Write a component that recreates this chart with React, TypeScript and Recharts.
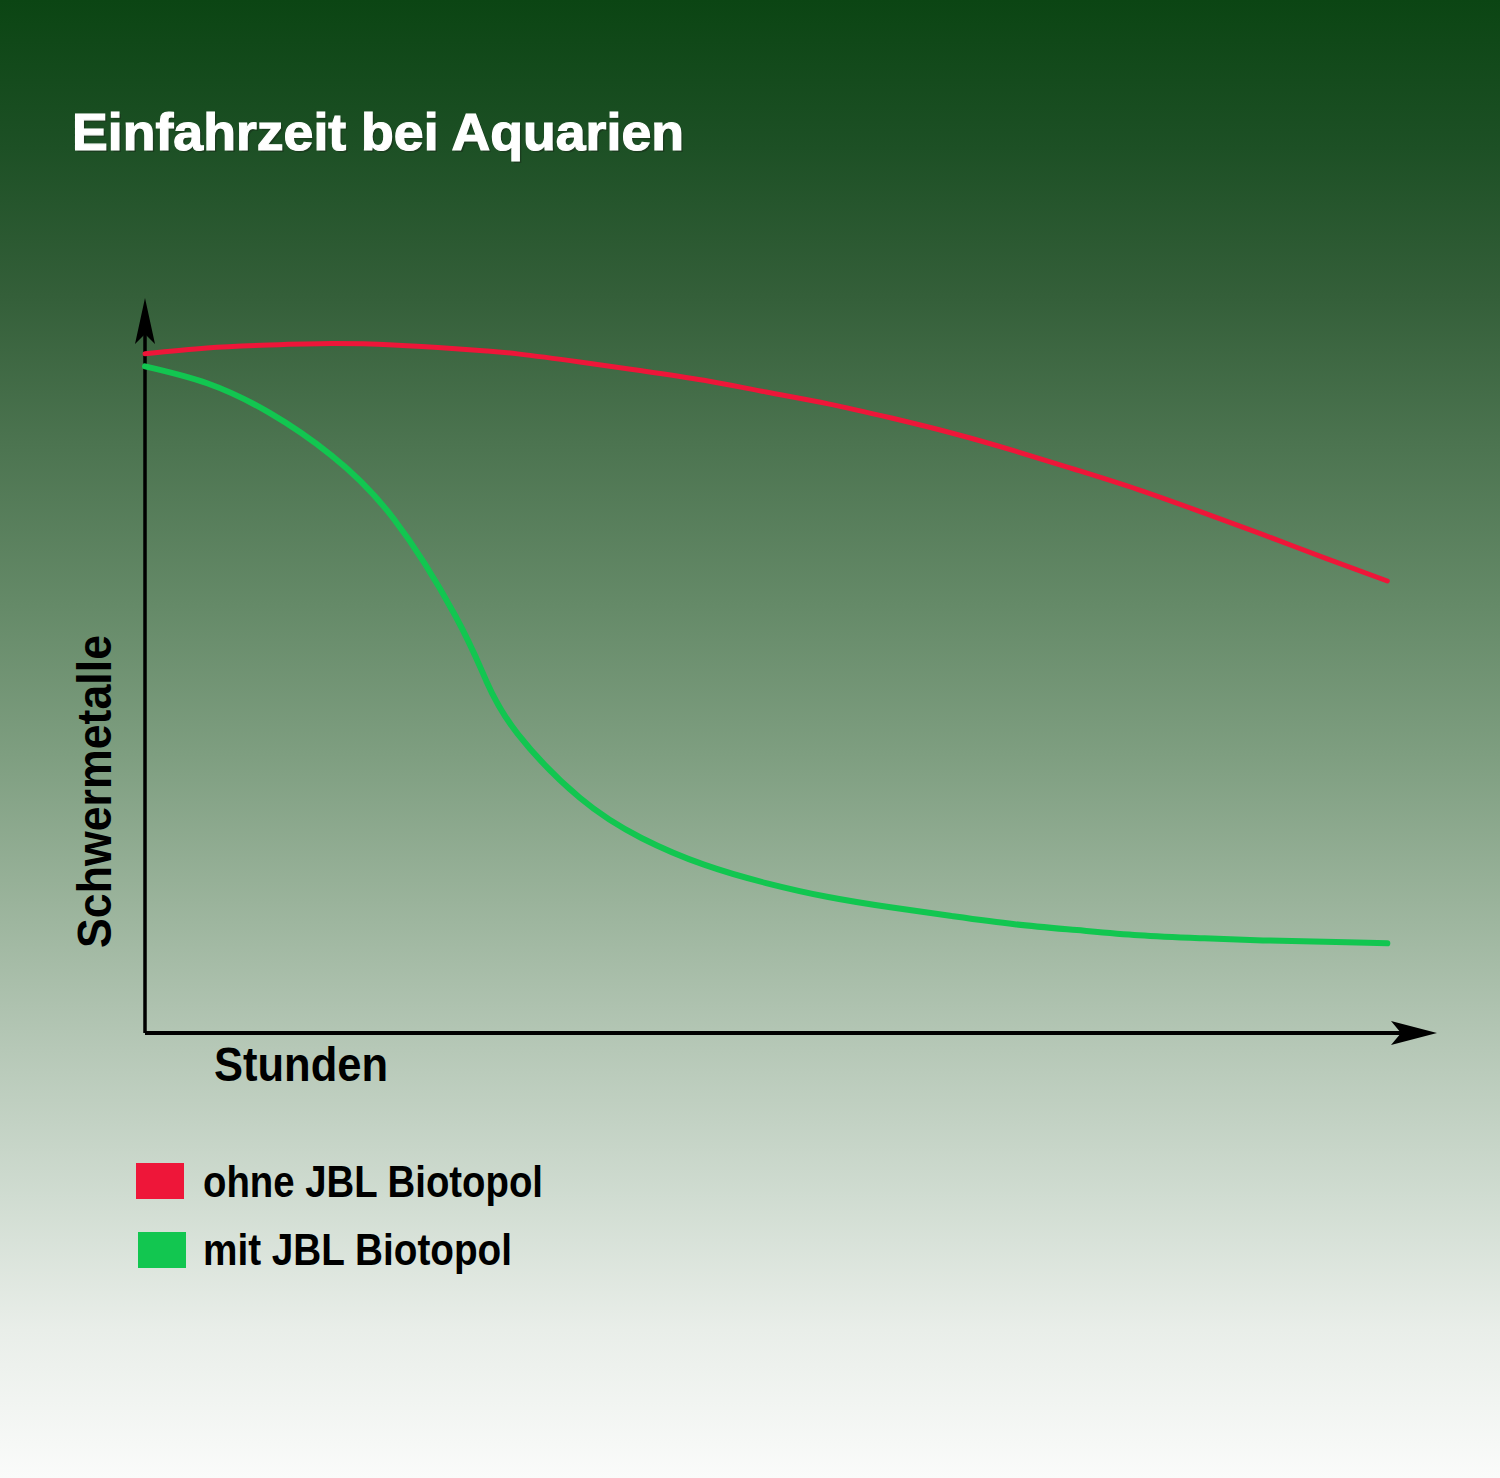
import React from "react";
import { LineChart, Line, XAxis, YAxis, ReferenceLine, ReferenceDot } from "recharts";

// hours (x), relative heavy metal level (y)
const hours = [0, 5, 10, 15, 20, 25, 27.5, 30, 35, 40, 45, 50, 55, 60, 65, 70, 75, 80, 85, 90, 95, 100];
const ohneBiotopol = [92.4, 93.2, 93.6, 93.8, 93.6, 93.1, 92.8, 92.4, 91.3, 90.1, 88.8, 87.2, 85.6, 83.7, 81.6, 79.2, 76.6, 73.9, 70.9, 67.8, 64.6, 61.5];
const mitBiotopol = [90.7, 88.4, 84.4, 78.6, 70.0, 56.7, 47.8, 40.7, 32.0, 26.5, 22.9, 20.4, 18.5, 17.1, 15.9, 14.8, 14.0, 13.3, 12.9, 12.6, 12.4, 12.2];

const seriesNames = ["ohne JBL Biotopol", "mit JBL Biotopol"];
const seriesColors = ["#ee1639", "#12c650"];

const data = hours.map((h, i) => ({ h, ohne: ohneBiotopol[i], mit: mitBiotopol[i] }));

const W = 1500;
const H = 1478;
const X_MAX = 104;

const font = "'Liberation Sans Narrow', 'Liberation Sans', Arial, sans-serif";

const ArrowRight = (props: any) => {
  const { cx, cy } = props;
  return <path d={`M${cx},${cy} L${cx - 46},${cy - 12} L${cx - 36},${cy} L${cx - 46},${cy + 12} Z`} fill="#000" />;
};

const ArrowUp = (props: any) => {
  const { cx, cy } = props;
  return <path d={`M${cx},${cy} L${cx - 10},${cy + 46} L${cx},${cy + 36} L${cx + 10},${cy + 46} Z`} fill="#000" />;
};

export default function App() {
  return (
    <div
      style={{
        position: "absolute",
        left: 0,
        top: 0,
        width: W,
        height: H,
        background:
          "linear-gradient(to bottom, #0b4513 0%, #1d5025 10%, #345f39 20%, #4c7450 30%, #658a68 41%, #7e9e80 51%, #9ab39b 61%, #b6c8b7 71%, #d0dcd1 81%, #e9eee9 90%, #fafbfa 100%)",
      }}
    >
      <LineChart width={W} height={H} data={data} margin={{ top: 298, right: W - 1437, bottom: H - 1033, left: 145 }}>
        <XAxis dataKey="h" type="number" domain={[0, X_MAX]} hide />
        <YAxis type="number" domain={[0, 100]} hide />
        <ReferenceLine segment={[{ x: 0, y: 0 }, { x: X_MAX - 2, y: 0 }]} stroke="#000" strokeWidth={4} ifOverflow="visible" />
        <ReferenceLine segment={[{ x: 0, y: 0 }, { x: 0, y: 96 }]} stroke="#000" strokeWidth={3.5} ifOverflow="visible" />
        <ReferenceDot x={X_MAX} y={0} shape={ArrowRight} ifOverflow="visible" />
        <ReferenceDot x={0} y={100} shape={ArrowUp} ifOverflow="visible" />
        <Line
          dataKey="ohne"
          name={seriesNames[0]}
          type="natural"
          stroke={seriesColors[0]}
          strokeWidth={5}
          strokeLinecap="round"
          dot={false}
          isAnimationActive={false}
        />
        <Line
          dataKey="mit"
          name={seriesNames[1]}
          type="natural"
          stroke={seriesColors[1]}
          strokeWidth={6}
          strokeLinecap="round"
          dot={false}
          isAnimationActive={false}
        />
      </LineChart>
      <svg width={W} height={H} style={{ position: "absolute", left: 0, top: 0, pointerEvents: "none" }}>
        <text x={74} y={152} fontFamily={font} fontWeight="bold" fontSize={52} fill="#1a2a1a" opacity={0.5} textLength={612} lengthAdjust="spacingAndGlyphs">
          Einfahrzeit bei Aquarien
        </text>
        <text x={72} y={150} fontFamily={font} fontWeight="bold" fontSize={52} fill="#fff" stroke="#fff" strokeWidth={1.2} textLength={612} lengthAdjust="spacingAndGlyphs">
          Einfahrzeit bei Aquarien
        </text>
        <text
          transform="translate(111,948) rotate(-90)"
          fontFamily={font}
          fontWeight="bold"
          fontSize={49}
          fill="#000"
          textLength={313}
          lengthAdjust="spacingAndGlyphs"
        >
          Schwermetalle
        </text>
        <text x={214} y={1081} fontFamily={font} fontWeight="bold" fontSize={48} fill="#000" textLength={174} lengthAdjust="spacingAndGlyphs">
          Stunden
        </text>
        {seriesNames.map((name, i) => (
          <g key={name}>
            <rect x={136 + i * 2} y={1163 + i * 69} width={48} height={36} fill={seriesColors[i]} />
            <text
              x={203}
              y={1197 + i * 68}
              fontFamily={font}
              fontWeight="bold"
              fontSize={44}
              fill="#000"
              textLength={i === 0 ? 340 : 309}
              lengthAdjust="spacingAndGlyphs"
            >
              {name}
            </text>
          </g>
        ))}
      </svg>
    </div>
  );
}
